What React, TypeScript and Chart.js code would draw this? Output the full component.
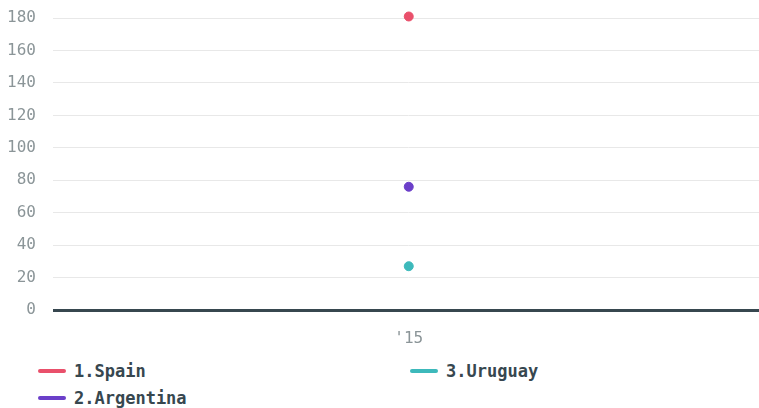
import React, { useEffect, useRef } from "react";
import { Chart, registerables } from "chart.js";

Chart.register(...registerables);

const categories = ["'15"];
const seriesNames = ["1.Spain", "2.Argentina", "3.Uruguay"];
const spainValues = [181];
const argentinaValues = [76];
const uruguayValues = [27];
const yTicks = [0, 20, 40, 60, 80, 100, 120, 140, 160, 180];
const seriesColors = ["#e9506b", "#6b3fc9", "#3db9bb"];
const legendOrder = [0, 2, 1];

const FONT = "'DejaVu Sans Mono', 'Liberation Mono', monospace";

export default function App() {
  const ref = useRef<HTMLCanvasElement | null>(null);

  useEffect(() => {
    document.body.style.margin = "0";
    const canvas = ref.current;
    if (!canvas) return;
    const values = [spainValues, argentinaValues, uruguayValues];
    const chart = new Chart(canvas, {
      type: "line",
      data: {
        labels: categories,
        datasets: seriesNames.map((name, i) => ({
          label: name,
          data: values[i],
          borderColor: seriesColors[i],
          backgroundColor: seriesColors[i],
          pointBackgroundColor: seriesColors[i],
          pointBorderColor: seriesColors[i],
          pointRadius: 4.5,
          pointBorderWidth: 1,
          pointHoverRadius: 4.5,
          showLine: false,
        })),
      },
      options: {
        animation: false,
        responsive: false,
        maintainAspectRatio: false,
        layout: { padding: { left: 0, right: 0, top: 10, bottom: 0 } },
        plugins: {
          legend: { display: false },
          tooltip: { enabled: false },
        },
        scales: {
          x: {
            type: "category",
            offset: true,
            grid: { display: false, drawTicks: false },
            border: { display: false },
            afterFit: (s: any) => {
              s.height = 40;
              s.paddingLeft = 0;
              s.paddingRight = 0;
            },
            ticks: {
              color: "#8b9598",
              padding: 19,
              font: { family: FONT, size: 16 },
            },
          },
          y: {
            min: 0,
            max: 185,
            afterBuildTicks: (axis: any) => {
              axis.ticks = yTicks.map((v) => ({ value: v }));
            },
            afterFit: (s: any) => {
              s.width = 53;
              s.paddingTop = 0;
              s.paddingBottom = 0;
            },
            grid: {
              drawTicks: false,
              color: (ctx: any) => (ctx.tick && ctx.tick.value === 0 ? "#37474f" : "#e8e8e8"),
              lineWidth: (ctx: any) => (ctx.tick && ctx.tick.value === 0 ? 3 : 1),
            },
            border: { display: false },
            ticks: {
              color: "#8b9598",
              padding: 17,
              font: { family: FONT, size: 16 },
            },
          },
        },
      },
    });
    return () => chart.destroy();
  }, []);

  return (
    <div style={{ width: 759, height: 408, position: "relative", background: "#fff", overflow: "hidden" }}>
      <canvas ref={ref} width={770} height={350} style={{ display: "block" }} />
      <div
        style={{
          display: "grid",
          gridTemplateColumns: "372px 372px",
          gridAutoRows: "27px",
          paddingLeft: 38,
          paddingTop: 7,
          fontFamily: FONT,
          fontWeight: "bold",
          fontSize: 17,
          color: "#37474f",
        }}
      >
        {legendOrder.map((idx, k) => (
          <div
            key={k}
            style={{ display: "flex", alignItems: "center", gridColumn: idx === 2 ? 2 : 1, gridRow: idx === 2 ? 1 : idx + 1 }}
          >
            <span
              style={{
                display: "inline-block",
                width: 28,
                height: 4,
                borderRadius: 2,
                background: seriesColors[idx],
                marginRight: 8,
              }}
            />
            <span>{seriesNames[idx]}</span>
          </div>
        ))}
      </div>
    </div>
  );
}
